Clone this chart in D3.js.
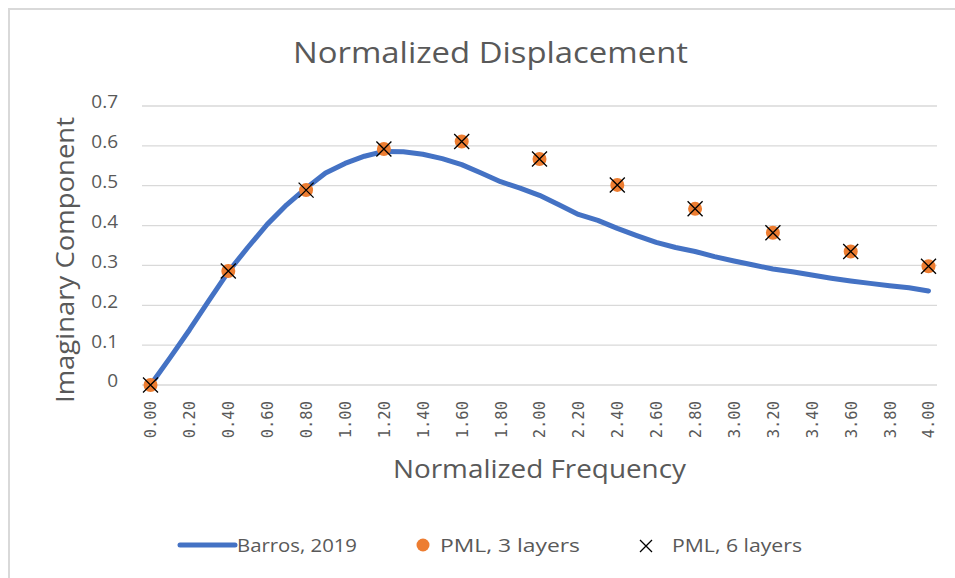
<!DOCTYPE html>
<html>
<head>
<meta charset="utf-8">
<script src="https://cdnjs.cloudflare.com/ajax/libs/d3/7.8.5/d3.min.js"></script>
<style>
  html, body { margin: 0; padding: 0; background: #fff; }
  svg { display: block; }
</style>
</head>
<body>
<svg id="chart" width="955" height="578"></svg>
<script>
// ---- Data ----
const title = "Normalized Displacement";
const xTitle = "Normalized Frequency";
const yTitle = "Imaginary Component";
const xTicks = [0.0, 0.2, 0.4, 0.6, 0.8, 1.0, 1.2, 1.4, 1.6, 1.8, 2.0, 2.2, 2.4, 2.6, 2.8, 3.0, 3.2, 3.4, 3.6, 3.8, 4.0];
const yTicks = [0, 0.1, 0.2, 0.3, 0.4, 0.5, 0.6, 0.7];

const barrosFreq = [0.0, 0.1, 0.2, 0.3, 0.4, 0.5, 0.6, 0.7, 0.8, 0.9, 1.0, 1.1, 1.2, 1.3, 1.4, 1.5, 1.6, 1.7, 1.8, 1.9, 2.0,
                    2.1, 2.2, 2.3, 2.4, 2.5, 2.6, 2.7, 2.8, 2.9, 3.0, 3.1, 3.2, 3.3, 3.4, 3.5, 3.6, 3.7, 3.8, 3.9, 4.0];
const barrosVal  = [0.000, 0.068, 0.138, 0.212, 0.284, 0.345, 0.403, 0.452, 0.494, 0.532, 0.556, 0.574, 0.586, 0.585, 0.579, 0.568, 0.553, 0.532, 0.510, 0.494, 0.476,
                    0.452, 0.428, 0.413, 0.393, 0.375, 0.358, 0.345, 0.335, 0.322, 0.311, 0.301, 0.291, 0.284, 0.276, 0.268, 0.261, 0.255, 0.249, 0.244, 0.236];

const pmlFreq = [0.0, 0.4, 0.8, 1.2, 1.6, 2.0, 2.4, 2.8, 3.2, 3.6, 4.0];
const pml3Val = [0.000, 0.286, 0.489, 0.592, 0.611, 0.567, 0.502, 0.442, 0.382, 0.335, 0.298];
const pml6Val = [0.000, 0.286, 0.489, 0.592, 0.611, 0.567, 0.502, 0.442, 0.382, 0.335, 0.298];

const seriesNames = ["Barros, 2019", "PML, 3 layers", "PML, 6 layers"];

// ---- Layout ----
const svg = d3.select("#chart");
const W = 955, H = 578;
const plot = { left: 142, right: 937, top: 106, bottom: 385 };
const blue = "#4472C4", orange = "#ED7D31", grid = "#D9D9D9", textCol = "#595959";
const font = "'Open Sans', 'Noto Sans', sans-serif";

const x = d3.scaleLinear().domain([0, 4]).range([150.5, 928.5]);
const y = d3.scaleLinear().domain([0, 0.7]).range([plot.bottom, plot.top]);

// chart frame
svg.append("rect").attr("x", 9).attr("y", 9).attr("width", W + 20).attr("height", H + 20)
  .attr("fill", "#fff").attr("stroke", "#D9D9D9").attr("stroke-width", 2);

// title
svg.append("text").attr("x", 490.5).attr("y", 63).attr("text-anchor", "middle")
  .attr("font-family", font).attr("font-size", 30).attr("fill", textCol)
  .attr("textLength", 395).attr("lengthAdjust", "spacingAndGlyphs").text(title);

// gridlines
svg.append("g").selectAll("line").data(yTicks).join("line")
  .attr("x1", plot.left).attr("x2", plot.right)
  .attr("y1", d => y(d)).attr("y2", d => y(d))
  .attr("stroke", grid).attr("stroke-width", 1.3);

// y axis labels
const yAxis = d3.axisLeft(y).tickValues(yTicks).tickSize(0).tickPadding(0)
  .tickFormat(d => d === 0 ? "0" : d3.format(".1f")(d));
const gy = svg.append("g").attr("transform", `translate(118,0)`).call(yAxis);
gy.select(".domain").remove();
gy.selectAll("text").attr("font-family", font).attr("font-size", 19).attr("fill", textCol)
  .attr("dy", "0.1em");

// x axis labels (rotated)
const xAxis = d3.axisBottom(x).tickValues(xTicks).tickSize(0).tickPadding(0)
  .tickFormat(d3.format(".2f"));
const gx = svg.append("g").attr("transform", `translate(0,${plot.bottom})`).call(xAxis);
gx.select(".domain").remove();
gx.selectAll("text")
  .attr("font-family", "'DejaVu Sans Mono', 'Liberation Mono', monospace")
  .attr("font-size", 15.5).attr("fill", textCol)
  .attr("text-anchor", "end")
  .attr("transform", "rotate(-90)")
  .attr("x", -16).attr("y", 0).attr("dy", "0.35em");

// axis titles
svg.append("text").attr("x", 539.5).attr("y", 478).attr("text-anchor", "middle")
  .attr("font-family", font).attr("font-size", 26).attr("fill", textCol)
  .attr("textLength", 293).attr("lengthAdjust", "spacingAndGlyphs").text(xTitle);
svg.append("text").attr("transform", "translate(74,260) rotate(-90)").attr("text-anchor", "middle")
  .attr("font-family", font).attr("font-size", 26).attr("fill", textCol)
  .attr("textLength", 286).attr("lengthAdjust", "spacingAndGlyphs").text(yTitle);

// Barros line
const barros = barrosFreq.map((f, i) => [f, barrosVal[i]]);
svg.append("path").datum(barros)
  .attr("d", d3.line().x(d => x(d[0])).y(d => y(d[1])).curve(d3.curveLinear))
  .attr("fill", "none").attr("stroke", blue).attr("stroke-width", 5)
  .attr("stroke-linejoin", "round").attr("stroke-linecap", "round");

// PML 3 layers (orange dots)
svg.append("g").selectAll("circle").data(pmlFreq.map((f, i) => [f, pml3Val[i]])).join("circle")
  .attr("cx", d => x(d[0])).attr("cy", d => y(d[1])).attr("r", 7).attr("fill", orange);

// PML 6 layers (x marks)
const cross = (g, s) => g.append("path")
  .attr("d", `M${-s},${-s}L${s},${s}M${-s},${s}L${s},${-s}`)
  .attr("stroke", "#000").attr("stroke-width", 1.3).attr("fill", "none");
svg.append("g").selectAll("g").data(pmlFreq.map((f, i) => [f, pml6Val[i]])).join("g")
  .attr("transform", d => `translate(${x(d[0])},${y(d[1])})`)
  .each(function() { cross(d3.select(this), 7.5); });

// legend
const ly = 545;
const leg = svg.append("g");
const legText = (xx, txt, len) => leg.append("text").attr("x", xx).attr("y", ly).attr("dy", "0.35em")
  .attr("font-family", font).attr("font-size", 19).attr("fill", textCol)
  .attr("textLength", len).attr("lengthAdjust", "spacingAndGlyphs").text(txt);
leg.append("line").attr("x1", 180).attr("x2", 235).attr("y1", ly).attr("y2", ly)
  .attr("stroke", blue).attr("stroke-width", 5).attr("stroke-linecap", "round");
legText(237, seriesNames[0], 120);
leg.append("circle").attr("cx", 423).attr("cy", ly).attr("r", 6.5).attr("fill", orange);
legText(440, seriesNames[1], 140);
const lc = leg.append("g").attr("transform", `translate(646,${ly + 1})`);
cross(lc, 6);
legText(672, seriesNames[2], 130);
</script>
</body>
</html>
